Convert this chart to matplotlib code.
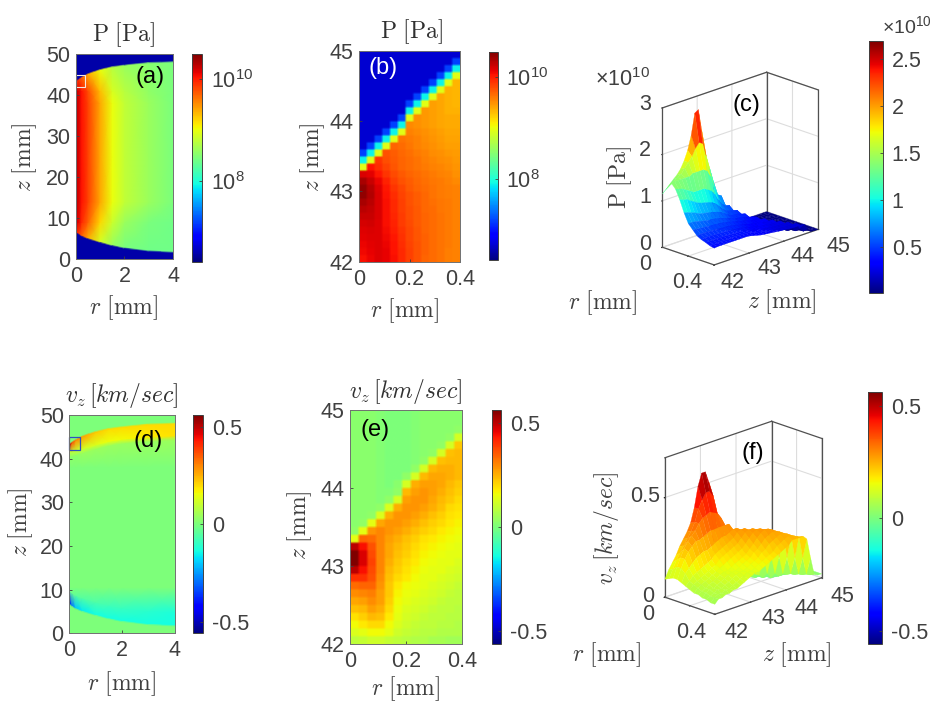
import numpy as np
import matplotlib
matplotlib.use('Agg')
import matplotlib.pyplot as plt
from matplotlib.patches import Rectangle
from matplotlib.colors import Normalize
from matplotlib.cm import ScalarMappable

plt.rcParams['font.family'] = ['Liberation Sans', 'DejaVu Sans']
plt.rcParams['mathtext.fontset'] = 'cm'
plt.rcParams['axes.linewidth'] = 0.7

W, H = 937, 705
GRAY = '#404040'
TICK = 15.5
LAB = 17

# full domain profiles, panels (a) and (d)
r_prof = [0, 0.1, 0.25, 0.5, 1, 1.5, 2, 3, 4]
z_top = [43.4, 43.9, 44.5, 45.3, 46.3, 47.0, 47.4, 48.0, 48.2]
z_bot = [6.9, 6.3, 5.7, 5.1, 4.2, 3.4, 2.8, 2.1, 1.8]
z_band = [41.5, 41.6, 41.8, 42.3, 43.2, 44.0, 44.5, 45.0, 45.3]

# log10(P) rows: below edge, above edge, z=9, 14, 25, 38, 41, under top edge
logp_edge_low = [10.0, 9.9, 9.7, 9.4, 8.9, 8.6, 8.45, 8.4, 8.4]
logp_9 = [10.25, 10.15, 9.95, 9.7, 9.2, 8.85, 8.6, 8.45, 8.4]
logp_mid = [10.3, 10.2, 10.05, 9.85, 9.4, 9.0, 8.8, 8.6, 8.45]
logp_41 = [10.3, 10.2, 10.05, 9.8, 9.3, 8.9, 8.75, 8.55, 8.45]
logp_edge_top = [10.0, 9.9, 9.7, 9.4, 9.0, 8.75, 8.6, 8.5, 8.45]
logp_vacuum = 6.55

vz_edge_low = [-0.45, -0.3, -0.2, -0.16, -0.14, -0.14, -0.14, -0.14, -0.14]
vz_above_low = [-0.02, -0.02, -0.04, -0.05, -0.06, -0.08, -0.09, -0.11, -0.13]
vz_under_band = [0.03, 0.03, 0.03, 0.04, 0.04, 0.04, 0.04, 0.04, 0.04]
vz_band = [0.09, 0.09, 0.1, 0.11, 0.13, 0.15, 0.16, 0.18, 0.19]
vz_edge_top = [0.5, 0.38, 0.3, 0.27, 0.22, 0.2, 0.2, 0.2, 0.2]

# zoomed region r 0-0.4, z 45 down to 42. pressure in 1e10 Pa
P = [
    [.0005, .0005, .0005, .0005, .0005, .0005, .0005, .0005, .0005, .0005, .0005, .0005, .0005],
    [.0005, .0005, .0005, .0005, .0005, .0005, .0005, .0005, .0005, .0005, .0005, .0005, .0015],
    [.0005, .0005, .0005, .0005, .0005, .0005, .0005, .0005, .0005, .0005, .0005, .0015, .008],
    [.0005, .0005, .0005, .0005, .0005, .0005, .0005, .0005, .0005, .0005, .0015, .008, .09],
    [.0005, .0005, .0005, .0005, .0005, .0005, .0005, .0005, .0005, .0015, .008, .09, .22],
    [.0005, .0005, .0005, .0005, .0005, .0005, .0005, .0005, .0015, .008, .09, .23, .22],
    [.0005, .0005, .0005, .0005, .0005, .0005, .0005, .0015, .008, .09, .25, .23, .22],
    [.0005, .0005, .0005, .0005, .0005, .0005, .0015, .008, .09, .27, .25, .23, .22],
    [.0005, .0005, .0005, .0005, .0005, .0005, .008, .09, .29, .27, .25, .23, .23],
    [.0005, .0005, .0005, .0005, .0005, .0015, .09, .31, .29, .27, .25, .24, .24],
    [.0005, .0005, .0005, .0005, .0015, .008, .34, .31, .29, .27, .25, .24, .24],
    [.0005, .0005, .0005, .0015, .008, .09, .37, .34, .31, .29, .27, .25, .25],
    [.0005, .0005, .0015, .008, .09, .43, .39, .36, .33, .30, .28, .26, .26],
    [.0005, .0015, .008, .09, .50, .45, .41, .37, .34, .31, .29, .27, .27],
    [.0015, .008, .09, .60, .52, .48, .44, .40, .36, .33, .31, .29, .28],
    [.008, .09, .80, .62, .54, .49, .45, .42, .38, .35, .33, .31, .29],
    [.09, 1.1, .85, .68, .57, .50, .46, .43, .40, .37, .35, .33, .30],
    [1.5, 1.4, 1.05, .80, .63, .55, .50, .46, .42, .39, .37, .35, .32],
    [2.2, 1.7, 1.3, .95, .72, .60, .52, .48, .44, .41, .39, .37, .34],
    [2.7, 2.0, 1.45, 1.05, .80, .65, .55, .50, .46, .42, .40, .38, .36],
    [2.65, 2.05, 1.5, 1.1, .85, .68, .58, .52, .47, .43, .40, .38, .37],
    [2.2, 1.95, 1.5, 1.15, .88, .70, .60, .53, .48, .44, .41, .39, .37],
    [1.9, 1.8, 1.5, 1.15, .90, .72, .61, .54, .48, .45, .41, .39, .37],
    [1.7, 1.7, 1.5, 1.15, .92, .74, .62, .55, .49, .45, .42, .39, .37],
    [1.55, 1.6, 1.45, 1.15, .95, .75, .63, .55, .50, .45, .42, .39, .37],
    [1.45, 1.5, 1.45, 1.2, 1.0, .78, .65, .56, .50, .46, .42, .39, .37],
    [1.38, 1.45, 1.45, 1.25, 1.05, .82, .67, .57, .51, .46, .42, .39, .37],
    [1.3, 1.4, 1.45, 1.3, 1.1, .85, .69, .58, .51, .46, .42, .39, .37],
    [1.22, 1.35, 1.45, 1.32, 1.12, .88, .70, .59, .51, .46, .42, .38, .37],
    [1.15, 1.3, 1.45, 1.35, 1.15, .9, .7, .6, .5, .45, .42, .38, .36],
]

# axial velocity in km/sec on the same grid
V = [
    [.02, .02, .02, .01, 0, 0, 0, .01, .02, .02, .02, .02, .02],
    [.02, .02, .02, .01, 0, 0, 0, .01, .02, .02, .02, .02, .02],
    [.02, .02, .02, .01, 0, 0, 0, .01, .02, .02, .02, .02, .03],
    [.02, .02, .02, .01, 0, 0, 0, .01, .02, .02, .02, .03, .12],
    [.02, .02, .02, .01, 0, 0, 0, .01, .02, .02, .03, .12, .22],
    [.02, .02, .02, .01, 0, 0, 0, .01, .02, .03, .12, .23, .24],
    [.02, .02, .02, .01, 0, 0, 0, .01, .03, .12, .23, .24, .24],
    [.02, .02, .02, .01, 0, 0, 0, .03, .12, .24, .25, .25, .24],
    [.02, .02, .02, .01, 0, 0, .03, .12, .24, .26, .26, .25, .24],
    [.02, .02, .02, .01, 0, .02, .12, .25, .27, .27, .26, .24, .22],
    [.02, .02, .02, .01, .01, .03, .24, .27, .28, .27, .25, .23, .21],
    [.02, .02, .02, .01, .03, .12, .27, .28, .28, .26, .24, .22, .20],
    [.02, .02, .02, .03, .13, .25, .28, .28, .27, .25, .23, .20, .19],
    [.02, .02, .03, .13, .25, .28, .28, .27, .25, .23, .21, .19, .18],
    [.02, .03, .14, .26, .28, .28, .27, .25, .23, .21, .20, .18, .17],
    [.03, .14, .28, .30, .28, .27, .25, .23, .21, .20, .18, .17, .16],
    [.14, .34, .33, .30, .27, .25, .23, .21, .19, .18, .17, .16, .15],
    [.50, .44, .36, .30, .26, .24, .22, .20, .18, .17, .16, .15, .14],
    [.56, .47, .37, .30, .26, .23, .21, .19, .17, .16, .15, .14, .14],
    [.56, .47, .38, .30, .25, .22, .20, .18, .16, .15, .14, .14, .13],
    [.50, .44, .37, .30, .24, .21, .19, .17, .15, .14, .14, .13, .12],
    [.40, .40, .36, .29, .23, .20, .18, .16, .14, .14, .13, .12, .11],
    [.33, .34, .34, .28, .22, .18, .16, .15, .14, .13, .12, .11, .10],
    [.29, .30, .31, .27, .22, .17, .15, .14, .13, .12, .11, .10, .09],
    [.26, .27, .29, .27, .21, .16, .14, .13, .12, .11, .10, .09, .09],
    [.23, .24, .27, .25, .20, .15, .13, .12, .11, .10, .09, .09, .08],
    [.19, .21, .24, .23, .18, .14, .12, .11, .10, .09, .09, .08, .08],
    [.16, .18, .20, .20, .16, .13, .11, .10, .09, .09, .08, .08, .07],
    [.13, .14, .16, .16, .14, .11, .10, .09, .08, .08, .07, .07, .07],
    [.09, .10, .11, .11, .10, .09, .08, .07, .07, .06, .06, .05, .05],
]

P = np.array(P)
V = np.array(V)
r_nodes = np.linspace(0, 0.4, 13)
z_nodes = np.linspace(45, 42, 30)

LOG_NORM = Normalize(6.4, 10.5)
V_NORM = Normalize(-0.56, 0.56)

fig = plt.figure(figsize=(W / 100, H / 100), dpi=100)


def box(x0, y0, x1, y1, **kw):
    return fig.add_axes([x0 / W, 1 - y1 / H, (x1 - x0) / W, (y1 - y0) / H], **kw)


def label(x, y, s, size=TICK, color=GRAY, **kw):
    kw.setdefault('ha', 'center')
    kw.setdefault('va', 'center')
    fig.text(x / W, 1 - y / H, s, fontsize=size, color=color, **kw)


def style(ax, xticks, xlabels, yticks):
    ax.set_xticks(xticks, xlabels)
    ax.set_yticks(yticks)
    ax.tick_params(direction='in', length=2, width=0.6, colors=GRAY, labelsize=TICK, pad=4)
    ax.tick_params(axis='x', pad=5)
    for s in ax.spines.values():
        s.set_color('#707070')


def cbar(pos, norm, ticks, labels):
    cax = box(*pos)
    cb = fig.colorbar(ScalarMappable(norm=norm, cmap='jet'), cax=cax)
    cb.set_ticks(ticks, labels=labels)
    cb.minorticks_off()
    cax.tick_params(direction='in', length=2, width=0.6, colors=GRAY, labelsize=TICK, pad=6)
    cb.outline.set_edgecolor(GRAY)
    cb.outline.set_linewidth(0.7)
    return cb


def profile_mesh(levels):
    rr = np.tile(np.array(r_prof), (len(levels), 1))
    zz = np.array([np.full(len(r_prof), l) if np.isscalar(l) else np.array(l) for l in levels])
    return rr, zz


def cells(ax, data, norm):
    # cell values shown with soft edges, like the scaled source picture
    big = np.repeat(np.repeat(data, 3, axis=0), 3, axis=1)
    ax.imshow(big, extent=(0, 0.4, 42, 45), origin='upper', aspect='auto', cmap='jet', norm=norm,
              interpolation='bilinear')


top = np.array(z_top)
bot = np.array(z_bot)

# (a)
ax = box(75.7, 54, 173.3, 259.3)
levels = [0, bot - 0.2, bot + 0.2, 9, 14, 25, 38, 41, top - 0.2, top + 0.2, 50]
vac = [logp_vacuum] * len(r_prof)
vals = [vac, vac, logp_edge_low, logp_9, logp_mid, logp_mid, logp_mid, logp_41, logp_edge_top, vac, vac]
rr, zz = profile_mesh(levels)
ax.pcolormesh(rr, zz, np.array(vals), shading='gouraud', cmap='jet', norm=LOG_NORM)
ax.add_patch(Rectangle((0, 42), 0.4, 3, fill=False, edgecolor='#f4e8e0', lw=0.8, clip_on=False))
ax.set_xlim(0, 4)
ax.set_ylim(0, 50)
style(ax, [0, 2, 4], ['0', '2', '4'], [0, 10, 20, 30, 40, 50])
cbar((192.3, 54, 202.3, 261.7), LOG_NORM, [8, 10], [r'$\mathregular{10^{8}}$', r'$\mathregular{10^{10}}$'])

# (b)
ax = box(359.3, 50.7, 460, 261.7)
cells(ax, np.log10(P * 1e10), LOG_NORM)
style(ax, [0, 0.2, 0.4], ['0', '0.2', '0.4'], [42, 43, 44, 45])
cbar((489, 51.7, 497.7, 260), LOG_NORM, [8, 10], [r'$\mathregular{10^{8}}$', r'$\mathregular{10^{10}}$'])

# (d)
ax = box(69.3, 415, 174.7, 633.3)
band = np.array(z_band)
levels = [0, bot - 0.2, bot + 0.2, bot + 3, 10.5, 38, band - 1, band, top - 0.2, top + 0.2, 50]
zero = [0] * len(r_prof)
vals = [zero, zero, vz_edge_low, vz_above_low, zero, zero, vz_under_band, vz_band, vz_edge_top, zero, zero]
rr, zz = profile_mesh(levels)
ax.pcolormesh(rr, zz, np.array(vals), shading='gouraud', cmap='jet', norm=V_NORM)
ax.add_patch(Rectangle((0, 42), 0.4, 3, fill=False, edgecolor='#3050c0', lw=0.9, clip_on=False))
ax.set_xlim(0, 4)
ax.set_ylim(0, 50)
style(ax, [0, 2, 4], ['0', '2', '4'], [0, 10, 20, 30, 40, 50])
cbar((193.3, 415, 203.3, 633.3), V_NORM, [-0.5, 0, 0.5], ['-0.5', '0', '0.5'])

# (e)
ax = box(350, 410, 462.3, 644)
cells(ax, V, V_NORM)
style(ax, [0, 0.2, 0.4], ['0', '0.2', '0.4'], [42, 43, 44, 45])
cbar((491.7, 410, 501.3, 644), V_NORM, [-0.5, 0, 0.5], ['-0.5', '0', '0.5'])


def surface(pos, aspect, data, vmin, vmax, ztop, zticks):
    ax = fig.add_axes(pos, projection='3d', proj_type='ortho')
    ax.view_init(elev=20, azim=-45)
    ax.set_box_aspect(aspect)
    ax.set_facecolor('none')
    rg, zg = np.meshgrid(r_nodes, z_nodes)
    surf = ax.plot_surface(rg, zg, data, cmap='jet', vmin=vmin, vmax=vmax, rstride=1, cstride=1,
                           linewidth=0.2, antialiased=True, shade=False)
    surf.set_edgecolor('face')
    ax.set_xlim(0, 0.4, view_margin=0)
    ax.set_ylim(42, 45, view_margin=0)
    ax.set_zlim(0, ztop, view_margin=0)
    ax.set_xticks([0, 0.2, 0.4], ['', '', ''])
    ax.set_yticks([42, 43, 44, 45], ['', '', '', ''])
    ax.set_zticks(zticks, [''] * len(zticks))
    ax.zaxis.set_ticks_position('lower')
    for a in (ax.xaxis, ax.yaxis, ax.zaxis):
        a.set_pane_color((1, 1, 1, 0))
        a.pane.set_edgecolor('none')
        a.line.set_color((0, 0, 0, 0))
        a._axinfo['grid'].update(color='#dddddd', linewidth=0.8)
        a._axinfo['tick'].update(inward_factor=0.06, outward_factor=0.0, color=GRAY)
    edges = [
        ([0, 0], [42, 42], [0, ztop]), ([0, 0], [45, 45], [0, ztop]), ([0.4, 0.4], [45, 45], [0, ztop]),
        ([0, 0], [42, 45], [ztop, ztop]), ([0, 0.4], [45, 45], [ztop, ztop]),
        ([0, 0.4], [42, 42], [0, 0]), ([0.4, 0.4], [42, 45], [0, 0]),
    ]
    for xs, ys, zs in edges:
        ax.plot(xs, ys, zs, color='#505050', lw=0.9)
    return ax


# (c)
s = 215
surface([630 / W, 426 / H, s / W, s / H], (219, 441, 444), P, 0.01, 2.7, 3, [0, 1, 2, 3])
cbar((869, 41, 883.3, 293), Normalize(0.01, 2.69), [0.5, 1, 1.5, 2, 2.5], ['0.5', '1', '1.5', '2', '2.5'])

# (f)
s = 216.6
surface([632 / W, 76 / H, s / W, s / H], (212, 452.5, 444.8), V, -0.56, 0.56, 0.7, [0, 0.5])
cbar((867.7, 392.3, 882.3, 644), V_NORM, [-0.5, 0, 0.5], ['-0.5', '0', '0.5'])

# titles and axis labels
p_title = r'$\mathrm{P}\ [\mathrm{Pa}]$'
v_title = r'$v_z\,[km/sec]$'
r_lab = r'$r\ [\mathrm{mm}]$'
z_lab = r'$z\ [\mathrm{mm}]$'
times = r'$\mathregular{\times 10^{10}}$'

label(124, 35, p_title, LAB, '#303030')
label(412, 32, p_title, LAB, '#303030')
label(122, 396, v_title, LAB, '#303030')
label(406, 391, v_title, LAB, '#303030')

label(124, 308, r_lab, LAB)
label(405, 311, r_lab, LAB)
label(122, 684, r_lab, LAB)
label(406, 689, r_lab, LAB)

label(25, 157, z_lab, LAB, rotation=90)
label(313, 157, z_lab, LAB, rotation=90)
label(21, 522, z_lab, LAB, rotation=90)
label(300, 525, z_lab, LAB, rotation=90)

label(150, 77, '(a)', LAB, 'black')
label(383, 68, '(b)', LAB, 'white')
label(746, 105, '(c)', LAB, 'black')
label(148, 441, '(d)', LAB, 'black')
label(375, 430, '(e)', LAB, 'black')
label(753, 453, '(f)', LAB, 'black')

# tick labels of the 3D panels
for x, y, s in [(645, 104, '3'), (645, 151, '2'), (645, 197, '1'), (645, 245, '0'), (645, 265, '0'),
                (687, 283, '0.4'), (733, 282, '42'), (769, 268, '43'), (803, 257, '44'), (838, 247, '45'),
                (645, 496, '0.5'), (648, 596, '0'), (648, 615, '0'),
                (691, 633, '0.4'), (737, 633, '42'), (773, 619, '43'), (807, 608, '44'), (842, 597, '45')]:
    label(x, y, s)

label(603, 303, r_lab, LAB)
label(782, 302, z_lab, LAB)
label(620, 177, p_title, LAB, rotation=90)
label(607, 655, r_lab, LAB)
label(797, 655, z_lab, LAB)
label(607, 528, v_title, LAB, rotation=90)
label(622, 80, times, TICK)
label(907, 26, times, 14)

fig.savefig('out.png', dpi=100)
